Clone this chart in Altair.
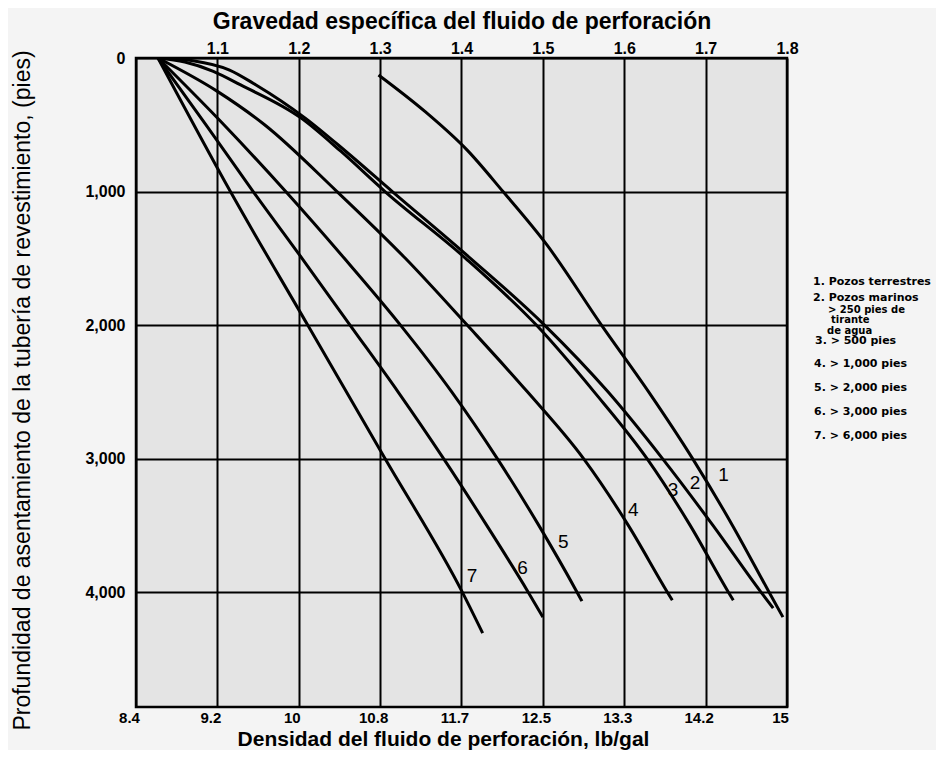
import altair as alt
import pandas as pd

# ---------------- axis ticks / labels ----------------
sg_ticks = [1.0, 1.1, 1.2, 1.3, 1.4, 1.5, 1.6, 1.7, 1.8]
density_labels = ["8.4", "9.2", "10", "10.8", "11.7", "12.5", "13.3", "14.2", "15"]
top_ticks = [1.1, 1.2, 1.3, 1.4, 1.5, 1.6, 1.7, 1.8]
depth_ticks = [0, 1000, 2000, 3000, 4000]

# ---------------- curves (depth in ft, specific gravity) ----------------
c1_depth = [127, 400, 690, 1000, 1400, 2000, 2500, 3000, 3500, 4000, 4187]
c1_sg = [1.298, 1.355, 1.407, 1.451, 1.505, 1.572, 1.630, 1.684, 1.733, 1.778, 1.795]

c2_depth = [0, 20, 90, 200, 450, 700, 1000, 1500, 2000, 2500, 3000, 3500, 4000, 4120]
c2_sg = [1.027, 1.070, 1.115, 1.147, 1.208, 1.258, 1.315, 1.411, 1.502, 1.580, 1.647, 1.709, 1.768, 1.783]

c3_depth = [0, 30, 100, 200, 450, 700, 1000, 1500, 2000, 2500, 3000, 3500, 4000, 4060]
c3_sg = [1.027, 1.060, 1.095, 1.128, 1.203, 1.252, 1.306, 1.405, 1.492, 1.563, 1.628, 1.681, 1.728, 1.734]

c4_depth = [0, 250, 500, 1000, 1500, 2000, 2500, 3000, 3500, 4000, 4060]
c4_sg = [1.027, 1.100, 1.158, 1.247, 1.331, 1.407, 1.481, 1.550, 1.605, 1.653, 1.659]

c5_depth = [0, 500, 1000, 1500, 2000, 2500, 3000, 3500, 4000, 4067]
c5_sg = [1.027, 1.108, 1.184, 1.256, 1.325, 1.388, 1.444, 1.495, 1.542, 1.548]

c6_depth = [0, 500, 1000, 1500, 2000, 2500, 3000, 3500, 4000, 4187]
c6_sg = [1.027, 1.086, 1.144, 1.204, 1.263, 1.322, 1.378, 1.431, 1.482, 1.500]

c7_depth = [0, 1000, 2000, 3000, 4000, 4307]
c7_sg = [1.027, 1.116, 1.211, 1.306, 1.401, 1.426]

curve_ids = ["1", "2", "3", "4", "5", "6", "7"]
curve_depths = [c1_depth, c2_depth, c3_depth, c4_depth, c5_depth, c6_depth, c7_depth]
curve_sgs = [c1_sg, c2_sg, c3_sg, c4_sg, c5_sg, c6_sg, c7_sg]

# ---------------- curve number labels ----------------
label_text = ["1", "2", "3", "4", "5", "6", "7"]
label_sg = [1.722, 1.687, 1.660, 1.611, 1.525, 1.475, 1.413]
label_depth = [3124, 3184, 3236, 3386, 3625, 3820, 3880]

# ---------------- legend text ----------------
legend_lines = ["1. Pozos terrestres", "2. Pozos marinos", "> 250 pies de", "tirante",
                "de agua", "3. > 500 pies", "4. > 1,000 pies", "5. > 2,000 pies",
                "6. > 3,000 pies", "7. > 6,000 pies"]

rows = []
for cid, ds, ss in zip(curve_ids, curve_depths, curve_sgs):
    for d, s in zip(ds, ss):
        rows.append({"curve": cid, "depth": d, "sg": s})
curves_df = pd.DataFrame(rows)
labels_df = pd.DataFrame({"t": label_text, "sg": label_sg, "depth": label_depth})

FONT = "Liberation Sans"
W, H = 651, 649

x_scale = alt.Scale(domain=[1.0, 1.8], nice=False, zero=False)
y_scale = alt.Scale(domain=[0, 4860], nice=False, zero=False, reverse=True)

label_expr = "[" + ",".join("'" + s + "'" for s in density_labels) + "][round(datum.value*10)-10]"

x_bottom = alt.X("sg:Q", scale=x_scale, axis=alt.Axis(
    orient="bottom", values=sg_ticks, labelExpr=label_expr, grid=True,
    gridColor="black", gridWidth=2, gridOpacity=1, ticks=False, tickSize=0, domain=False,
    labelFont=FONT, labelFontWeight="bold", labelFontSize=15, labelColor="black",
    labelPadding=3, labelOffset=-7, labelOverlap=False, labelFlush=False, labelBound=False,
    title="Densidad del fluido de perforación, lb/gal", titleFont=FONT,
    titleFontSize=21, titleFontWeight="bold", titleColor="black",
    titleX=307, titleY=38, titleAlign="center", titleBaseline="alphabetic"))

x_top = alt.X("sg:Q", scale=x_scale, axis=alt.Axis(
    orient="top", values=top_ticks, format=".1f", grid=False, ticks=False, tickSize=0,
    domain=False, labelFont=FONT, labelFontWeight="bold", labelFontSize=16,
    labelColor="black", labelPadding=2, labelOverlap=False, labelFlush=False, labelBound=False,
    title="Gravedad específica del fluido de perforación", titleFont=FONT,
    titleFontSize=23, titleFontWeight="bold", titleColor="black",
    titleX=W / 2, titleY=-30, titleAlign="center", titleBaseline="alphabetic"))

y_enc = alt.Y("depth:Q", scale=y_scale, axis=alt.Axis(
    values=depth_ticks, format=",d", grid=True, gridColor="black", gridWidth=2, gridOpacity=1,
    ticks=False, tickSize=0, domain=False, labelFont=FONT, labelFontWeight="bold",
    labelFontSize=16, labelColor="black", labelPadding=11, labelFlush=False,
    labelOverlap=False, labelBound=False,
    title="Profundidad de asentamiento de la  tubería de revestimiento, (pies)",
    titleFont=FONT, titleFontSize=23, titleFontWeight="normal", titleColor="black",
    titleAngle=270, titleX=-114, titleY=332, titleAlign="center", titleBaseline="middle"))

lines = alt.Chart(curves_df).mark_line(
    color="black", strokeWidth=3, interpolate="monotone", clip=True
).encode(x=x_bottom, y=y_enc, detail="curve:N", order="depth:Q")

nums = alt.Chart(labels_df).mark_text(
    font=FONT, fontSize=19, color="black", align="center", baseline="middle"
).encode(x=x_top, y=y_enc, text="t:N")

# legend block on the right (pixel layout relative to plot origin)
leg_x = [677, 677, 692, 695, 691, 679, 678, 678, 678, 678]
leg_y = [224, 240, 251.5, 262, 272.5, 283, 306, 330, 354, 378]
leg_size = [11, 11, 10, 10, 10, 11, 11, 11, 11, 11]
legend_layers = []
for txt, lx, ly, fs in zip(legend_lines, leg_x, leg_y, leg_size):
    legend_layers.append(
        alt.Chart(pd.DataFrame({"t": [txt]})).mark_text(
            font="DejaVu Sans", fontWeight="bold", fontSize=fs, color="black",
            align="left", baseline="middle"
        ).encode(x=alt.value(lx), y=alt.value(ly), text="t:N")
    )

chart = alt.layer(lines, nums, *legend_layers).resolve_axis(x="independent").properties(
    width=W, height=H,
    autosize=alt.AutoSizeParams(type="none"),
    padding={"left": 128, "top": 50, "right": 149, "bottom": 43},
    background="#f4f4f4",
).configure_view(stroke="black", strokeWidth=2.5, fill="#e4e4e4")

chart.save("out.html", embed_options={"renderer": "svg", "actions": False})
